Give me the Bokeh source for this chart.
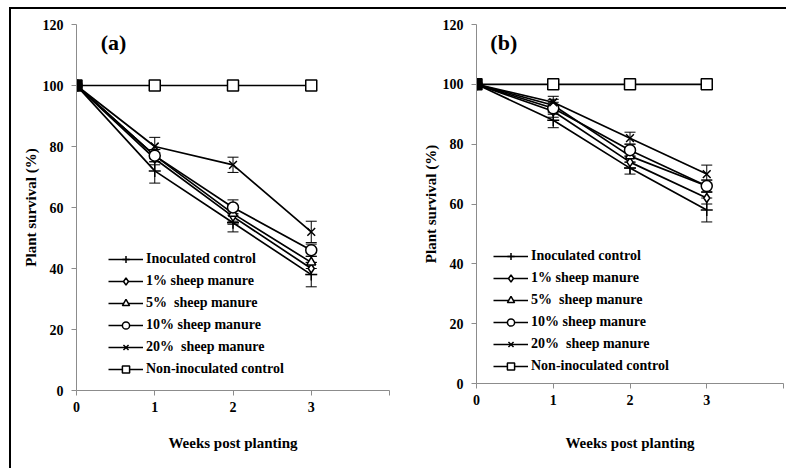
from bokeh.plotting import figure
from bokeh.models import ColumnDataSource, Whisker, Legend, LegendItem, Label, FixedTicker
from bokeh.layouts import row, column
from bokeh.embed import file_html
from bokeh.resources import INLINE

weeks = [0, 1, 2, 3]
series_names = ["Inoculated control", "1% sheep manure", "5%  sheep manure",
                "10% sheep manure", "20%  sheep manure", "Non-inoculated control"]
markers = ["cross", "diamond", "triangle", "circle", "x", "square"]

# Panel (a): survival (%) per week
a_inoculated = [100, 72, 55, 38]
a_sm1 = [100, 76, 57, 40]
a_sm5 = [100, 77, 58, 42]
a_sm10 = [100, 77, 60, 46]
a_sm20 = [100, 80, 74, 52]
a_noninoc = [100, 100, 100, 100]
a_err_inoculated = [0, 4, 3, 4]
a_err_sm1 = [0, 2, 2.5, 2]
a_err_sm5 = [0, 2, 2.5, 2]
a_err_sm10 = [0, 2, 2.5, 2]
a_err_sm20 = [0, 3, 2.5, 3.5]
a_err_noninoc = [0, 0, 0, 0]

# Panel (b): survival (%) per week
b_inoculated = [100, 88, 72, 58]
b_sm1 = [100, 91, 74, 62]
b_sm5 = [100, 93, 76, 66]
b_sm10 = [100, 92, 78, 66]
b_sm20 = [100, 94, 82, 70]
b_noninoc = [100, 100, 100, 100]
b_err_inoculated = [0, 2.5, 2, 4]
b_err_sm1 = [0, 2, 2, 2]
b_err_sm5 = [0, 2, 2, 2]
b_err_sm10 = [0, 2, 2, 2]
b_err_sm20 = [0, 2, 2, 3]
b_err_noninoc = [0, 0, 0, 0]

y_ticks = [0, 20, 40, 60, 80, 100, 120]
x_ticks = [0, 1, 2, 3, 4]

FONT = "Liberation Serif"
marker_sizes = {"cross": 12, "diamond": 9, "triangle": 9, "circle": 11, "x": 11, "square": 11}


def make_panel(tag, values, errors, width, height, borders, legend_loc, tag_x, xlabel_gap):
    p = figure(width=width, height=height, x_range=(0, 4), y_range=(0, 120),
               output_backend="svg", toolbar_location=None,
               min_border_left=borders[0], min_border_right=borders[1],
               min_border_top=borders[2], min_border_bottom=borders[3])
    p.outline_line_color = None
    p.xgrid.visible = False
    p.ygrid.visible = False
    p.background_fill_color = "white"
    p.border_fill_color = "white"

    for ax in (p.xaxis[0], p.yaxis[0]):
        ax.axis_line_color = "#8c8c8c"
        ax.axis_line_width = 1
        ax.major_tick_line_color = "#8c8c8c"
        ax.major_tick_out = 5
        ax.major_tick_in = 0
        ax.minor_tick_line_color = None
        ax.major_label_text_font = FONT
        ax.major_label_text_font_style = "bold"
        ax.major_label_text_font_size = "14px"
        ax.major_label_text_color = "black"
        ax.axis_label_text_font = FONT
        ax.axis_label_text_font_style = "bold"
        ax.axis_label_text_font_size = "15px"
        ax.axis_label_text_color = "black"

    p.xaxis.ticker = FixedTicker(ticks=x_ticks)
    p.xaxis.major_label_overrides = {4: ""}
    p.yaxis.ticker = FixedTicker(ticks=y_ticks)
    p.xaxis.axis_label = "Weeks post planting"
    p.yaxis.axis_label = "Plant survival (%)"
    p.xaxis.major_label_standoff = 6
    p.xaxis.axis_label_standoff = xlabel_gap
    p.yaxis.major_label_standoff = 8
    p.yaxis.axis_label_standoff = 1

    items = []
    for name, mk, vals, errs in zip(series_names, markers, values, errors):
        src = ColumnDataSource(dict(
            x=weeks, y=vals,
            upper=[v + e for v, e in zip(vals, errs)],
            lower=[v - e for v, e in zip(vals, errs)],
            fill=["black" if (w == 0 and mk == "square") else "white" for w in weeks],
        ))
        ln = p.line("x", "y", source=src, line_color="black", line_width=1.7)
        if any(errs):
            wk = Whisker(source=src, base="x", upper="upper", lower="lower",
                         line_color="black", line_width=1)
            wk.upper_head.size = 11
            wk.lower_head.size = 11
            wk.upper_head.line_width = 1
            wk.lower_head.line_width = 1
            p.add_layout(wk)
        sc = p.scatter("x", "y", source=src, marker=mk, size=marker_sizes[mk],
                       fill_color="fill", line_color="black", line_width=1.5)
        items.append(LegendItem(label=name, renderers=[ln, sc], index=1))

    legend = Legend(items=items, location=legend_loc, padding=0, margin=0,
                    spacing=4, glyph_width=35, glyph_height=18, label_height=18,
                    label_standoff=3, border_line_color=None,
                    background_fill_alpha=0,
                    label_text_font=FONT, label_text_font_style="bold",
                    label_text_font_size="14px", label_text_color="black")
    p.add_layout(legend)

    p.add_layout(Label(x=tag_x, y=114, text=tag, text_font=FONT,
                       text_font_style="bold", text_font_size="22px",
                       text_baseline="middle", text_color="black"))
    return p


pa = make_panel("(a)",
                [a_inoculated, a_sm1, a_sm5, a_sm10, a_sm20, a_noninoc],
                [a_err_inoculated, a_err_sm1, a_err_sm5, a_err_sm10, a_err_sm20, a_err_noninoc],
                389, 459, (65, 11, 15, 78), (32, 12), 0.31, 20)
pb = make_panel("(b)",
                [b_inoculated, b_sm1, b_sm5, b_sm10, b_sm20, b_noninoc],
                [b_err_inoculated, b_err_sm1, b_err_sm5, b_err_sm10, b_err_sm20, b_err_noninoc],
                386, 459, (76, 3, 15, 85), (17, 8), 0.18, 27)

layout = row(column(pa), column(pb),
             styles={"margin-left": "9px", "margin-top": "7px",
                     "border-left": "2px solid black",
                     "border-top": "2px solid black"})

open("out.html", "w").write(file_html(layout, INLINE))
